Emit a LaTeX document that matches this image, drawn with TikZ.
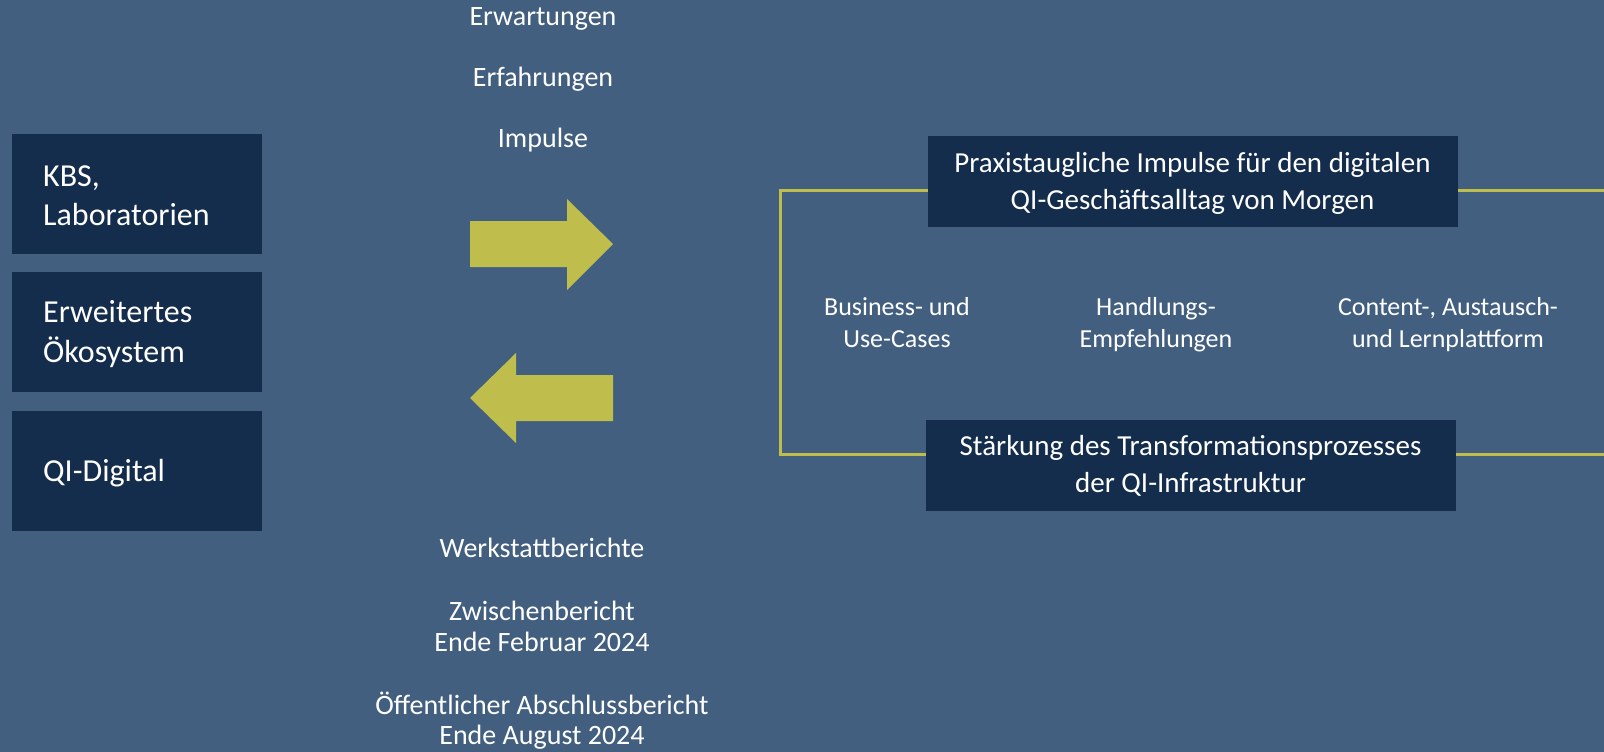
\documentclass[tikz,border=0pt]{standalone}
\usepackage{fontspec}
\setmainfont{Carlito}
\definecolor{bgblue}{HTML}{425F80}
\definecolor{darkbox}{HTML}{142D4C}
\definecolor{ylw}{HTML}{BFBD4C}
\begin{document}
\begin{tikzpicture}[x=1pt,y=-1pt,
  box/.style={fill=darkbox,draw=none,inner sep=0pt,anchor=center},
  lbl/.style={text=white,inner sep=0pt,anchor=base},
  lbll/.style={text=white,inner sep=0pt,anchor=base west},
  big/.style={font=\fontsize{32}{39}\selectfont},
  mid/.style={font=\fontsize{28}{31}\selectfont},
  hdr/.style={font=\fontsize{29}{37}\selectfont},
  sml/.style={font=\fontsize{26}{32}\selectfont},
  frame/.style={draw=ylw,line width=3pt},
  arr/.style={fill=ylw,draw=none}]
\fill[bgblue] (0,0) rectangle (1604,752);
\useasboundingbox (0,0) rectangle (1604,752);

% left boxes
\node[box,minimum width=250pt,minimum height=120pt] (b1) at (137,194) {};
\node[box,minimum width=250pt,minimum height=120pt] (b2) at (137,332) {};
\node[box,minimum width=250pt,minimum height=120pt] (b3) at (137,471) {};
\node[lbll,big] (b1a) at (43,186) {KBS,};
\node[lbll,big] (b1b) at (43,225) {Laboratorien};
\node[lbll,big] (b2a) at (43,322) {Erweitertes};
\node[lbll,big] (b2b) at (43,362) {Ökosystem};
\node[lbll,big] (b3a) at (43,481) {QI-Digital};

% top texts
\node[lbl,mid] (t1) at (543,26) {Erwartungen};
\node[lbl,mid] (t2) at (543,87) {Erfahrungen};
\node[lbl,mid] (t3) at (543,147) {Impulse};

% bottom texts
\node[lbl,mid] (w1) at (542,557) {Werkstattberichte};
\node[lbl,mid] (w2) at (542,620) {Zwischenbericht};
\node[lbl,mid] (w3) at (542,651) {Ende Februar 2024};
\node[lbl,mid] (w4) at (542,714) {Öffentlicher Abschlussbericht};
\node[lbl,mid] (w5) at (542,744) {Ende August 2024};

% arrows
\fill[arr] (470,221) -- (567,221) -- (567,199) -- (613,244) -- (567,290) -- (567,267) -- (470,267) -- cycle;
\fill[arr] (613,375) -- (516,375) -- (516,353) -- (470,398) -- (516,443) -- (516,421) -- (613,421) -- cycle;

% right frame
\node[box,minimum width=530pt,minimum height=91pt] (top) at (1193,181.5) {};
\node[box,minimum width=530pt,minimum height=91pt] (bot) at (1191,465.5) {};
\coordinate (tl) at (780,190);
\coordinate (bl) at (780,454);
\coordinate (tr) at (1604,190);
\coordinate (br) at (1604,454);
\draw[frame] (top.west |- tl) -- (tl) -- (bl) -- (bot.west |- bl);
\draw[frame] (top.east |- tr) -- (tr);
\draw[frame] (bot.east |- br) -- (br);

\node[lbl,hdr] (h1) at (1192.5,172) {Praxistaugliche Impulse für den digitalen};
\node[lbl,hdr] (h2) at (1192.5,209) {QI-Geschäftsalltag von Morgen};
\node[lbl,hdr] (s1) at (1190.5,455) {Stärkung des Transformationsprozesses};
\node[lbl,hdr] (s2) at (1190.5,492) {der QI-Infrastruktur};

% middle texts
\node[lbl,sml] (m1a) at (897,315) {Business- und};
\node[lbl,sml] (m1b) at (897,347) {Use-Cases};
\node[lbl,sml] (m2a) at (1156,315) {Handlungs-};
\node[lbl,sml] (m2b) at (1156,347) {Empfehlungen};
\node[lbl,sml] (m3a) at (1448,315) {Content-, Austausch-};
\node[lbl,sml] (m3b) at (1448,347) {und Lernplattform};
\end{tikzpicture}
\end{document}
